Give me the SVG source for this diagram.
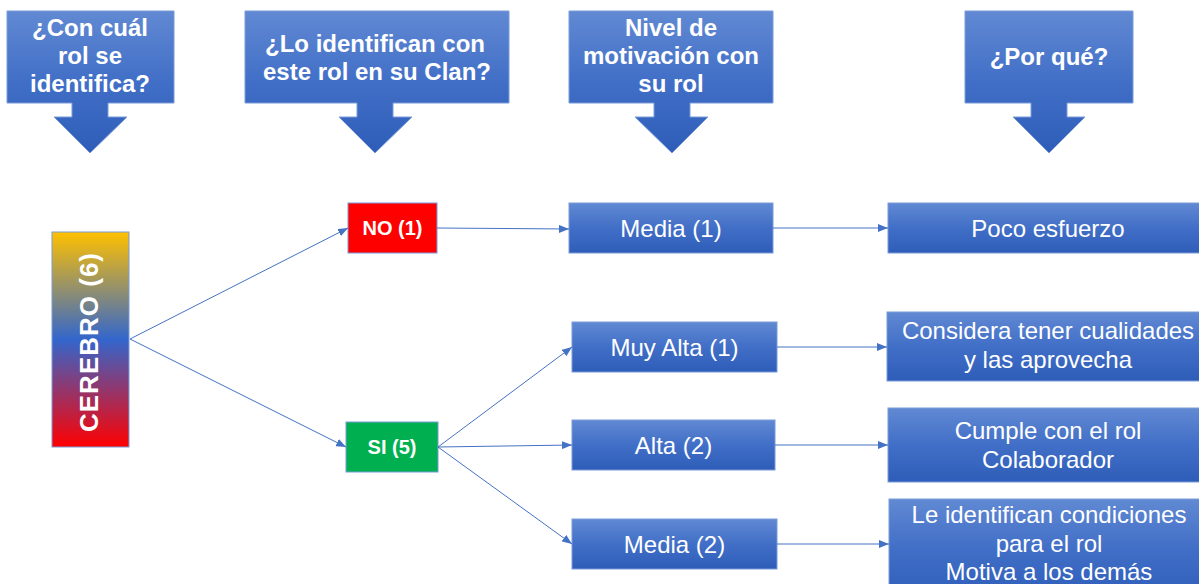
<svg xmlns="http://www.w3.org/2000/svg" width="1199" height="584" viewBox="0 0 1199 584">
<defs>
<linearGradient id="blue" x1="0" y1="0" x2="0" y2="1">
<stop offset="0" stop-color="#6189D3"/>
<stop offset="0.5" stop-color="#416FC7"/>
<stop offset="1" stop-color="#2E5DB9"/>
</linearGradient>
<linearGradient id="rainbow" x1="0" y1="0" x2="0" y2="1">
<stop offset="0" stop-color="#FFC000"/>
<stop offset="0.5" stop-color="#3366CC"/>
<stop offset="1" stop-color="#FF0000"/>
</linearGradient>
<marker id="ah" viewBox="0 0 10 8" refX="10" refY="4" markerWidth="10" markerHeight="8" markerUnits="userSpaceOnUse" orient="auto">
<path d="M0,0 L10,4 L0,8 Z" fill="#4472C4"/>
</marker>
<style>
.box{fill:url(#blue);stroke:#7A9BD8;stroke-width:1}
.hd{font-family:"Liberation Sans",Arial,sans-serif;font-weight:bold;font-size:24px;fill:#FFFFFF;text-anchor:middle}
.bt{font-family:"Liberation Sans",Arial,sans-serif;font-size:24px;fill:#FFFFFF;text-anchor:middle}
.st{font-family:"Liberation Sans",Arial,sans-serif;font-weight:bold;font-size:20px;fill:#FFFFFF;text-anchor:middle}
.cn{fill:none;stroke:#4472C4;stroke-width:1;marker-end:url(#ah)}
</style>
</defs>
<rect width="1199" height="584" fill="#FFFFFF"/>

<g id="h1">
<path class="box" d="M7,11 H174 V103 H108 V117 H127 L90,153 L54,117 H72 V103 H7 Z"/>
<text class="hd" x="90" y="36">¿Con cuál</text>
<text class="hd" x="90" y="64">rol se</text>
<text class="hd" x="90" y="92">identifica?</text>
</g>
<g id="h2">
<path class="box" d="M245,11 H509 V103 H393 V117 H412 L375,153 L339,117 H357 V103 H245 Z"/>
<text class="hd" x="375" y="52">¿Lo identifican con</text>
<text class="hd" x="377" y="80">este rol en su Clan?</text>
</g>
<g id="h3">
<path class="box" d="M569,11 H773 V103 H690 V117 H708 L672,153 L635,117 H654 V103 H569 Z"/>
<text class="hd" x="671" y="36">Nivel de</text>
<text class="hd" x="671" y="64">motivación con</text>
<text class="hd" x="671" y="92">su rol</text>
</g>
<g id="h4">
<path class="box" d="M965,11 H1133 V103 H1067 V117 H1085 L1049,153 L1013,117 H1031 V103 H965 Z"/>
<text class="hd" x="1049" y="65">¿Por qué?</text>
</g>

<g id="cerebro">
<rect x="52" y="232" width="77" height="215" fill="url(#rainbow)" stroke="#7A9BD8" stroke-width="1"/>
<text transform="translate(98,342) rotate(-90)" x="0" y="0" font-family="Liberation Sans, Arial, sans-serif" font-weight="bold" font-size="26" letter-spacing="1" fill="#FFFFFF" text-anchor="middle">CEREBRO (6)</text>
</g>

<g id="no">
<rect x="348" y="203" width="89" height="50" fill="#FF0000" stroke="#7A9BD8" stroke-width="1"/>
<text class="st" x="392.5" y="235">NO (1)</text>
</g>
<g id="si">
<rect x="346" y="422" width="92" height="50" fill="#00B050" stroke="#7A9BD8" stroke-width="1"/>
<text class="st" x="392" y="454">SI (5)</text>
</g>

<g id="media1">
<rect class="box" x="569" y="203" width="204" height="50"/>
<text class="bt" x="671" y="237">Media (1)</text>
</g>
<g id="muyalta">
<rect class="box" x="572" y="322" width="205" height="50"/>
<text class="bt" x="674.5" y="356">Muy Alta (1)</text>
</g>
<g id="alta">
<rect class="box" x="572" y="420" width="203" height="50"/>
<text class="bt" x="673.5" y="454">Alta (2)</text>
</g>
<g id="media2">
<rect class="box" x="572" y="519" width="205" height="50"/>
<text class="bt" x="674.5" y="553">Media (2)</text>
</g>

<g id="poco">
<rect class="box" x="888" y="203" width="320" height="50"/>
<text class="bt" x="1048" y="237">Poco esfuerzo</text>
</g>
<g id="considera">
<rect class="box" x="887" y="312" width="321" height="69"/>
<text class="bt" x="1048" y="339">Considera tener cualidades</text>
<text class="bt" x="1048" y="368">y las aprovecha</text>
</g>
<g id="cumple">
<rect class="box" x="888" y="408" width="320" height="74"/>
<text class="bt" x="1048" y="439">Cumple con el rol</text>
<text class="bt" x="1048" y="468">Colaborador</text>
</g>
<g id="leident">
<rect class="box" x="889" y="499" width="320" height="100"/>
<text class="bt" x="1049" y="523">Le identifican condiciones</text>
<text class="bt" x="1049" y="552">para el rol</text>
<text class="bt" x="1049" y="580">Motiva  a los demás</text>
</g>

<g id="connectors">
<line class="cn" x1="130" y1="339" x2="348" y2="228"/>
<line class="cn" x1="130" y1="339" x2="346" y2="447"/>
<line class="cn" x1="437" y1="228" x2="569" y2="229"/>
<line class="cn" x1="438" y1="447" x2="572" y2="347"/>
<line class="cn" x1="438" y1="447" x2="572" y2="445"/>
<line class="cn" x1="438" y1="447" x2="572" y2="544"/>
<line class="cn" x1="773" y1="228" x2="888" y2="228"/>
<line class="cn" x1="777" y1="347" x2="887" y2="347"/>
<line class="cn" x1="775" y1="445" x2="888" y2="445"/>
<line class="cn" x1="777" y1="544" x2="889" y2="544"/>
</g>
</svg>
